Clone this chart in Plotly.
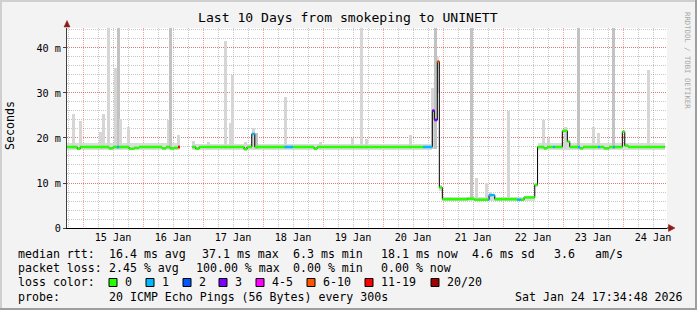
import plotly.graph_objects as go
from datetime import datetime

# ---------------- data ----------------
# median rtt (ms), step values starting at each time; last time = end of data
med_time = [
    "2026-01-14 17:35", "2026-01-14 21:40", "2026-01-14 22:50", "2026-01-15 10:24", "2026-01-15 12:00",
    "2026-01-15 13:36", "2026-01-15 14:24", "2026-01-15 18:24", "2026-01-15 20:24", "2026-01-15 22:24",
    "2026-01-16 07:36", "2026-01-16 09:12", "2026-01-16 10:48", "2026-01-16 12:24", "2026-01-16 14:00",
    "2026-01-16 14:48", "2026-01-16 19:45", "2026-01-16 21:05", "2026-01-16 22:24", "2026-01-17 16:24",
    "2026-01-17 17:36", "2026-01-17 19:29", "2026-01-17 20:41", "2026-01-18 08:41", "2026-01-18 12:00",
    "2026-01-18 20:24", "2026-01-18 21:36", "2026-01-20 16:07", "2026-01-20 19:43", "2026-01-20 20:31",
    "2026-01-20 21:43", "2026-01-20 22:31", "2026-01-20 23:43", "2026-01-21 09:48", "2026-01-21 12:24",
    "2026-01-21 18:00", "2026-01-21 18:24", "2026-01-21 20:41", "2026-01-22 05:36", "2026-01-22 07:05",
    "2026-01-22 08:24", "2026-01-22 12:41", "2026-01-22 13:48", "2026-01-22 16:24", "2026-01-22 17:36",
    "2026-01-22 20:00", "2026-01-22 20:41", "2026-01-22 23:43", "2026-01-23 01:43", "2026-01-23 02:41",
    "2026-01-23 06:00", "2026-01-23 06:48", "2026-01-23 08:00", "2026-01-23 14:00", "2026-01-23 14:48",
    "2026-01-23 16:24", "2026-01-23 18:24", "2026-01-23 20:00", "2026-01-23 20:41", "2026-01-23 23:43",
    "2026-01-24 00:41", "2026-01-24 02:00", "2026-01-24 16:45",
]
med_val = [
    18.0, 17.6, 18.0, 17.7, 18.0,
    18.0, 18.0, 17.6, 17.8, 18.0,
    17.7, 18.0, 17.7, 17.8, 18.0,
    None, 18.0, 17.6, 18.0, 17.5,
    18.0, 20.9, 18.0, 18.0, 18.0,
    17.6, 18.0, 18.0, 26.1, 24.0,
    37.0, 9.0, 6.4, 6.5, 6.3,
    6.3, 7.3, 6.4, 6.3, 6.3,
    6.8, 9.6, 18.0, 17.7, 18.0,
    18.0, 18.0, 21.6, 19.2, 18.0,
    18.0, 17.7, 18.0, 18.0, 18.0,
    17.7, 18.0, 18.0, 18.0, 21.4,
    18.3, 18.0,
]
# lost pings (of 20) for each median segment
med_loss = [
    0, 0, 0, 0, 0,
    1, 0, 0, 0, 0,
    0, 0, 0, 0, 15,
    0, 0, 0, 0, 0,
    0, 1, 0, 1, 0,
    0, 0, 1, 3, 3,
    7, 0, 0, 0, 0,
    1, 1, 0, 1, 0,
    0, 0, 0, 0, 0,
    1, 0, 0, 0, 0,
    1, 0, 0, 1, 0,
    0, 0, 1, 0, 0,
    0, 0,
]

# smoke band (spread of pings around median)
smoke_time = ["2026-01-14 17:35", "2026-01-16 14:48", "2026-01-16 19:45", "2026-01-20 19:43",
              "2026-01-20 21:43", "2026-01-20 22:31", "2026-01-20 23:43", "2026-01-22 12:41",
              "2026-01-22 13:48", "2026-01-24 16:45"]
smoke_lo = [17.3, None, 17.4, 23.0, 30.0, 8.3, 6.0, 9.2, 17.4]
smoke_hi = [18.8, None, 18.7, 27.5, 38.0, 9.6, 6.9, 10.0, 18.8]

# smoke spikes (max ping of interval)
spike_time = [
    "2026-01-14 20:00", "2026-01-14 22:48", "2026-01-15 06:48", "2026-01-15 08:00", "2026-01-15 10:00",
    "2026-01-15 12:48", "2026-01-15 14:00", "2026-01-15 15:00", "2026-01-15 18:00", "2026-01-16 10:00",
    "2026-01-16 11:00", "2026-01-16 14:00", "2026-01-16 20:00", "2026-01-17 02:00", "2026-01-17 09:00",
    "2026-01-17 10:48", "2026-01-17 11:48", "2026-01-17 16:48", "2026-01-17 20:00", "2026-01-17 21:12",
    "2026-01-18 09:00", "2026-01-18 22:48", "2026-01-19 11:54", "2026-01-19 15:12", "2026-01-19 17:12",
    "2026-01-20 10:48", "2026-01-20 19:54", "2026-01-20 21:00", "2026-01-21 11:12", "2026-01-21 13:12",
    "2026-01-21 17:12", "2026-01-21 18:48", "2026-01-22 02:00", "2026-01-22 16:00", "2026-01-22 18:00",
    "2026-01-23 01:00", "2026-01-23 06:00", "2026-01-23 12:00", "2026-01-23 14:00", "2026-01-23 20:00",
    "2026-01-24 10:00",
]
spike_top = [
    25.3, 23.8, 21.4, 25.3, 45.0,
    35.6, 45.0, 24.2, 22.4, 24.0,
    45.0, 20.7, 19.3, 19.1, 41.5,
    23.4, 34.0, 19.1, 22.2, 21.0,
    29.2, 19.1, 19.9, 45.0, 19.7,
    20.7, 31.2, 45.0, 45.0, 11.2,
    10.1, 8.1, 25.9, 24.0, 19.9,
    22.5, 45.0, 22.4, 21.1, 45.0,
    35.1,
]
spike_base = [
    17.5, 17.5, 17.5, 17.5, 17.5,
    17.5, 17.5, 17.5, 17.5, 17.5,
    17.5, 17.5, 17.5, 17.5, 17.5,
    17.5, 17.5, 17.5, 17.5, 17.5,
    17.5, 17.5, 17.5, 17.5, 17.5,
    17.5, 17.5, 17.5, 6.3, 6.3,
    6.3, 6.3, 6.3, 17.5, 17.5,
    17.5, 17.5, 17.5, 17.5, 17.5,
    17.5,
]
spike_dark = [
    0, 0, 0, 0, 0,
    0, 1, 0, 0, 0,
    1, 0, 0, 0, 0,
    0, 0, 0, 0, 1,
    0, 0, 0, 0, 0,
    0, 0, 1, 1, 0,
    0, 0, 0, 0, 0,
    0, 1, 0, 0, 1,
    0,
]

loss_labels = ["0", "1", "2", "3", "4-5", "6-10", "11-19", "20/20"]
loss_colors = ["#26ff00", "#00b8ff", "#0059ff", "#7e00ff", "#ff00ff", "#ff5500", "#ff0000", "#a00000"]

x_start, x_end = "2026-01-14 17:34:48", "2026-01-24 17:34:48"
day_ticks0 = "2026-01-15"
y_tickvals = [0, 10, 20, 30, 40]
y_ticktext = ["0", "10 m", "20 m", "30 m", "40 m"]

stats_line1 = [("median rtt:", 16), ("16.4 ms avg", 107.3), ("37.1 ms max", 200), ("6.3 ms min", 291),
               ("18.1 ms now", 379.3), ("4.6 ms sd", 470), ("3.6", 551.7), ("am/s", 593.3)]
stats_line2 = [("packet loss:", 16), ("2.45 % avg", 107.3), ("100.00 % max", 193.5),
               ("0.00 % min", 291), ("0.00 % now", 379.3)]
probe_text = "20 ICMP Echo Pings (56 Bytes) every 300s"
date_text = "Sat Jan 24 17:34:48 2026"
title_text = "Last 10 Days from smokeping to UNINETT"

# ---------------- helpers ----------------
FONT = "DejaVu Sans Mono"
PL, PR, PT, PB = 67, 667, 28, 228


def fx(px):
    return (px - PL) / (PR - PL)


def fy(py):
    return (PB - py) / (PB - PT)


def parse(s):
    return datetime.strptime(s, "%Y-%m-%d %H:%M")


def loss_class(n):
    if n <= 3:
        return n
    if n <= 5:
        return 4
    if n <= 10:
        return 5
    if n <= 19:
        return 6
    return 7


fig = go.Figure()

# smoke band
sb_x, sb_w, sb_b, sb_h = [], [], [], []
for i in range(len(smoke_lo)):
    if smoke_lo[i] is None:
        continue
    a, b = parse(smoke_time[i]), parse(smoke_time[i + 1])
    sb_x.append(a + (b - a) / 2)
    sb_w.append((b - a).total_seconds() * 1000)
    sb_b.append(smoke_lo[i])
    sb_h.append(smoke_hi[i] - smoke_lo[i])
fig.add_trace(go.Bar(x=sb_x, y=sb_h, base=sb_b, width=sb_w,
                     marker=dict(color="#dcdcdc", line=dict(width=0)),
                     showlegend=False, hoverinfo="skip"))

# spikes
fig.add_trace(go.Bar(x=[parse(t) for t in spike_time],
                     y=[t - b for t, b in zip(spike_top, spike_base)],
                     base=spike_base, width=[72 * 60 * 1000] * len(spike_time),
                     marker=dict(color=["#c2c2c2" if d else "#d6d6d6" for d in spike_dark],
                                 line=dict(width=0)),
                     showlegend=False, hoverinfo="skip"))

# black median step line
fig.add_trace(go.Scatter(x=med_time, y=med_val + [med_val[-1]], mode="lines",
                         line=dict(color="#000000", width=1, shape="hv"),
                         connectgaps=False, showlegend=False, hoverinfo="skip"))

# loss-coloured median segments
for c in range(len(loss_colors)):
    xs, ys = [], []
    for i, v in enumerate(med_val):
        if v is None or loss_class(med_loss[i]) != c:
            continue
        xs += [med_time[i], med_time[i + 1], None]
        ys += [v, v, None]
    if xs:
        fig.add_trace(go.Scatter(x=xs, y=ys, mode="lines",
                                 line=dict(color=loss_colors[c], width=2.6),
                                 showlegend=False, hoverinfo="skip"))

MAJ = "rgba(255,0,0,0.38)"
MIN = "rgba(130,130,130,0.45)"
fig.update_layout(
    width=697, height=310,
    margin=dict(l=PL, r=697 - PR, t=PT, b=310 - PB),
    paper_bgcolor="#f3f3f3", plot_bgcolor="#ffffff",
    barmode="overlay", bargap=0,
    xaxis=dict(type="date", range=[x_start, x_end], tick0=day_ticks0, dtick=86400000,
               tickformat="%d %b", ticklabelshift=30, ticks="",
               showgrid=True, gridcolor=MAJ, griddash="1px,1px", gridwidth=1,
               minor=dict(dtick=21600000, tick0=day_ticks0, showgrid=True, gridcolor=MIN,
                          griddash="1px,1px", ticks=""),
               showline=True, linecolor="#000000", linewidth=1, zeroline=False,
               tickfont=dict(family=FONT, size=10.2, color="#000000"), fixedrange=True),
    yaxis=dict(range=[0, 44.44], tickmode="array", tickvals=y_tickvals, ticktext=y_ticktext,
               showgrid=True, gridcolor=MAJ, griddash="1px,1px",
               minor=dict(tickmode="linear", tick0=0, dtick=2, showgrid=True, gridcolor=MIN,
                          griddash="1px,1px", ticks=""),
               showline=True, linecolor="#404040", linewidth=1, zeroline=False,
               ticks="outside", ticklen=3, tickcolor="#404040",
               tickfont=dict(family=FONT, size=10.2, color="#000000"), fixedrange=True),
    font=dict(family=FONT, color="#000000"),
)

ann = []


def txt(s, px, py, size=11.6, xanchor="left", color="#000000", angle=0):
    ann.append(dict(text=s, x=fx(px), y=fy(py), xref="paper", yref="paper", showarrow=False,
                    xanchor=xanchor, yanchor="middle", textangle=angle,
                    font=dict(family=FONT, size=size, color=color)))


txt(title_text, 348, 17, size=13.1, xanchor="center")
txt("Seconds", 10, 126, size=11.6, xanchor="center", angle=-90)
txt("RRDTOOL / TOBI OETIKER", 688, 60, size=7.3, xanchor="center", color="#a8a8a8", angle=90)
for s, px in stats_line1:
    txt(s, px, 254)
for s, px in stats_line2:
    txt(s, px, 268)
txt("loss color:", 16, 282)
box_x = [109, 146, 183, 219, 256, 307, 365, 431]
shapes = []
for lab, col, bx in zip(loss_labels, loss_colors, box_x):
    shapes.append(dict(type="rect", xref="paper", yref="paper", x0=fx(bx), x1=fx(bx + 8),
                       y0=fy(286.5), y1=fy(278.5), fillcolor=col, line=dict(color="#000000", width=1)))
    txt(lab, bx + 14, 282)
txt("probe:", 16, 297)
txt(probe_text, 107.3, 297)
txt(date_text, 513.3, 297)


def tri(pts):
    return "M " + " L ".join(f"{fx(a)},{fy(b)}" for a, b in pts) + " Z"


# axis arrows
ARROW = "#8c1c1c"
shapes.append(dict(type="path", xref="paper", yref="paper",
                   path=tri([(64, 27), (70, 27), (67, 20.5)]), fillcolor=ARROW,
                   line=dict(color=ARROW, width=0.5)))
shapes.append(dict(type="line", xref="paper", yref="paper", x0=fx(PR), x1=fx(669),
                   y0=fy(228), y1=fy(228), line=dict(color="#000000", width=1)))
shapes.append(dict(type="path", xref="paper", yref="paper",
                   path=tri([(668.5, 224.5), (668.5, 231.5), (675, 228)]), fillcolor=ARROW,
                   line=dict(color=ARROW, width=0.5)))
# outer frame
shapes.append(dict(type="line", xref="paper", yref="paper", x0=fx(0), x1=fx(697),
                   y0=fy(1), y1=fy(1), line=dict(color="#cfcfcf", width=2)))
shapes.append(dict(type="line", xref="paper", yref="paper", x0=fx(1), x1=fx(1),
                   y0=fy(0), y1=fy(310), line=dict(color="#cfcfcf", width=2)))
shapes.append(dict(type="line", xref="paper", yref="paper", x0=fx(0), x1=fx(697),
                   y0=fy(309), y1=fy(309), line=dict(color="#9e9e9e", width=2)))
shapes.append(dict(type="line", xref="paper", yref="paper", x0=fx(696), x1=fx(696),
                   y0=fy(0), y1=fy(310), line=dict(color="#9e9e9e", width=2)))

fig.update_layout(annotations=ann, shapes=shapes)
fig.write_html("out.html", config={"displayModeBar": False})
